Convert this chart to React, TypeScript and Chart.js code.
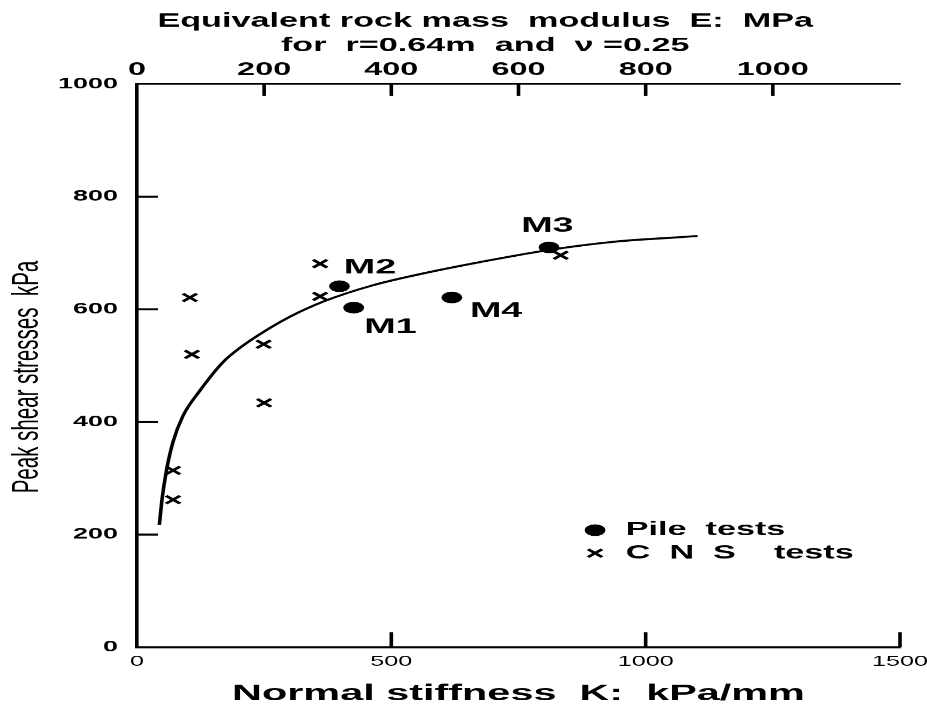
import React, { useEffect, useRef } from 'react';
import { Chart, registerables } from 'chart.js';
import { drawPoint } from 'chart.js/helpers';

Chart.register(...registerables);

// ---- data ----
const pileNames = ['M1', 'M2', 'M3', 'M4'];
const pileK = [426, 398, 810, 619];
const pileTau = [603, 641, 710, 621];

const cnsK = [360, 360, 104, 108, 249, 250, 71, 71, 833];
const cnsTau = [681, 623, 621, 520, 538, 434, 314, 262, 696];

const curveK = [44, 49, 58, 71, 90, 124, 170, 203, 249, 301, 367, 465, 564, 675, 807, 938, 1102];
const curveTau = [217, 261, 314, 365, 410, 456, 507, 532, 560, 587, 614, 643, 664, 684, 705, 720, 730];

const xTickValues = [0, 500, 1000, 1500];
const topTickValues = [0, 200, 400, 600, 800, 1000];
const yTickValues = [0, 200, 400, 600, 800, 1000];

// ---- layout / styling ----
const SX = 927 / 515; // the figure is stretched horizontally
const LW = 515;
const LH = 708;
const FAM = "'Liberation Sans', Arial, sans-serif";
const NARROW = "'Liberation Sans Narrow', 'Liberation Sans', Arial, sans-serif";
const labelOffsets = [[20.4, 19.2], [17, -18.5], [-0.9, -21.6], [24.6, 13.7]];

const plain = (v: any) => String(v);

const inwardTicks = {
  id: 'inwardTicks',
  afterDraw(chart: any) {
    const { ctx, chartArea: a, scales } = chart;
    ctx.save();
    ctx.strokeStyle = '#000';
    ctx.lineWidth = 2;
    ctx.beginPath();
    for (const t of scales.x.ticks) {
      if (t.value <= 0) continue;
      const px = scales.x.getPixelForValue(t.value);
      ctx.moveTo(px, a.bottom);
      ctx.lineTo(px, a.bottom - 15);
    }
    for (const t of scales.x2.ticks) {
      if (t.value <= 0) continue;
      const px = scales.x2.getPixelForValue(t.value);
      ctx.moveTo(px, a.top);
      ctx.lineTo(px, a.top + 12);
    }
    for (const t of scales.y.ticks) {
      if (t.value <= 0 || t.value >= 1000) continue;
      const py = scales.y.getPixelForValue(t.value);
      ctx.moveTo(a.left, py);
      ctx.lineTo(a.left + 11.7, py);
    }
    ctx.stroke();
    ctx.restore();
  },
};

const pointLabels = {
  id: 'pointLabels',
  afterDatasetsDraw(chart: any) {
    const ctx = chart.ctx;
    const meta = chart.getDatasetMeta(0);
    ctx.save();
    ctx.font = `bold 21px ${FAM}`;
    ctx.fillStyle = '#000';
    ctx.textAlign = 'center';
    ctx.textBaseline = 'middle';
    meta.data.forEach((pt: any, i: number) => {
      const [dx, dy] = labelOffsets[i];
      ctx.fillText(pileNames[i], pt.x + dx, pt.y + dy);
    });
    ctx.restore();
  },
};

const innerLegend = {
  id: 'innerLegend',
  afterDraw(chart: any) {
    const ctx = chart.ctx;
    const a = chart.chartArea;
    const x0 = a.left + 254.5;
    [0, 1].forEach((di, r) => {
      const ds = chart.data.datasets[di];
      const y = a.bottom - 117 + r * 23;
      ctx.save();
      ctx.fillStyle = ds.backgroundColor;
      ctx.strokeStyle = ds.borderColor;
      ctx.lineWidth = ds.borderWidth;
      drawPoint(ctx, { pointStyle: ds.pointStyle, radius: ds.pointRadius, rotation: 0, borderWidth: ds.borderWidth } as any, x0, y);
      ctx.font = `bold 19px ${FAM}`;
      ctx.fillStyle = '#000';
      ctx.textAlign = 'left';
      ctx.textBaseline = 'middle';
      ctx.fillText(ds.label, x0 + 17, y);
      ctx.restore();
    });
  },
};

function zeroPad(scale: any) {
  scale.paddingLeft = 0;
  scale.paddingRight = 0;
  scale.paddingTop = 0;
  scale.paddingBottom = 0;
}

export default function App() {
  const ref = useRef<HTMLCanvasElement>(null);

  useEffect(() => {
    const canvas = ref.current;
    if (!canvas) return;
    Chart.defaults.font.family = FAM;
    Chart.defaults.color = '#000';
    const trail = '       ';
    const chart = new Chart(canvas, {
      type: 'scatter',
      data: {
        datasets: [
          {
            label: 'Pile  tests',
            data: pileK.map((k, i) => ({ x: k, y: pileTau[i] })),
            pointStyle: 'circle',
            pointRadius: 5.8,
            backgroundColor: '#000',
            borderColor: '#000',
            borderWidth: 0,
            xAxisID: 'x',
            yAxisID: 'y',
          },
          {
            label: 'C  N  S    tests',
            data: cnsK.map((k, i) => ({ x: k, y: cnsTau[i] })),
            pointStyle: 'crossRot',
            pointRadius: 5.5,
            backgroundColor: '#000',
            borderColor: '#000',
            borderWidth: 2.2,
            xAxisID: 'x',
            yAxisID: 'y',
          },
          {
            label: 'fit',
            data: curveK.map((k, i) => ({ x: k, y: curveTau[i] })),
            showLine: true,
            pointRadius: 0,
            borderColor: '#000',
            backgroundColor: '#000',
            borderWidth: 2,
            cubicInterpolationMode: 'monotone',
            xAxisID: 'x',
            yAxisID: 'y',
          } as any,
        ],
      },
      options: {
        responsive: false,
        maintainAspectRatio: false,
        devicePixelRatio: SX,
        animation: false,
        events: [],
        layout: { padding: { left: 0, right: 15, top: 0, bottom: 0 } },
        plugins: {
          legend: { display: false },
          tooltip: { enabled: false },
        },
        scales: {
          x: {
            type: 'linear',
            position: 'bottom',
            min: 0,
            max: 1500,
            afterBuildTicks: (s: any) => { s.ticks = xTickValues.map((v) => ({ value: v })); },
            afterFit: (s: any) => { s.height = 61; zeroPad(s); },
            grid: { display: false, drawTicks: false },
            border: { display: true, color: '#000', width: 2 },
            ticks: {
              autoSkip: false,
              maxRotation: 0,
              padding: 6.5,
              color: '#000',
              callback: plain,
              font: { size: 14, family: FAM },
            },
            title: {
              display: true,
              text: 'Normal stiffness  K:  kPa/mm',
              color: '#000',
              font: { size: 23, weight: 'bold', family: FAM },
              padding: { top: 0, bottom: 0.7 },
            },
          },
          x2: {
            type: 'linear',
            axis: 'x',
            position: 'top',
            min: 0,
            max: 1200,
            afterBuildTicks: (s: any) => { s.ticks = topTickValues.map((v) => ({ value: v })); },
            afterFit: (s: any) => { s.height = 84; zeroPad(s); },
            grid: { display: false, drawTicks: false },
            border: { display: true, color: '#000', width: 2 },
            ticks: {
              autoSkip: false,
              maxRotation: 0,
              padding: 3.2,
              color: '#000',
              callback: plain,
              font: { size: 18, weight: 'bold', family: FAM },
            },
            title: {
              display: true,
              text: [
                'Equivalent rock mass  modulus  E:  MPa' + trail,
                'for  r=0.64m  and  ν =0.25' + trail,
              ],
              color: '#000',
              font: { size: 19, weight: 'bold', family: FAM, lineHeight: 24.5 / 19 },
              padding: { top: 9.25, bottom: 0 },
            },
          },
          y: {
            type: 'linear',
            position: 'left',
            min: 0,
            max: 1000,
            afterBuildTicks: (s: any) => { s.ticks = yTickValues.map((v) => ({ value: v })); },
            afterFit: (s: any) => { s.width = 76.1; zeroPad(s); },
            grid: { display: false, drawTicks: false },
            border: { display: true, color: '#000', width: 2 },
            ticks: {
              autoSkip: false,
              padding: 10.5,
              color: '#000',
              callback: plain,
              font: { size: 15, weight: 'bold', family: NARROW },
            },
            title: {
              display: true,
              text: 'Peak shear stresses  kPa    ',
              color: '#000',
              font: { size: 20.5, weight: 'normal', family: FAM },
              padding: { top: 3, bottom: 0 },
            },
          },
        },
      } as any,
      plugins: [inwardTicks, pointLabels, innerLegend],
    });
    return () => chart.destroy();
  }, []);

  return (
    <div style={{ position: 'absolute', left: 0, top: 0, width: 927, height: 708, background: '#fff' }}>
      <canvas
        ref={ref}
        width={LW}
        height={LH}
        style={{ width: '927px', height: '708px', display: 'block' }}
      />
    </div>
  );
}
